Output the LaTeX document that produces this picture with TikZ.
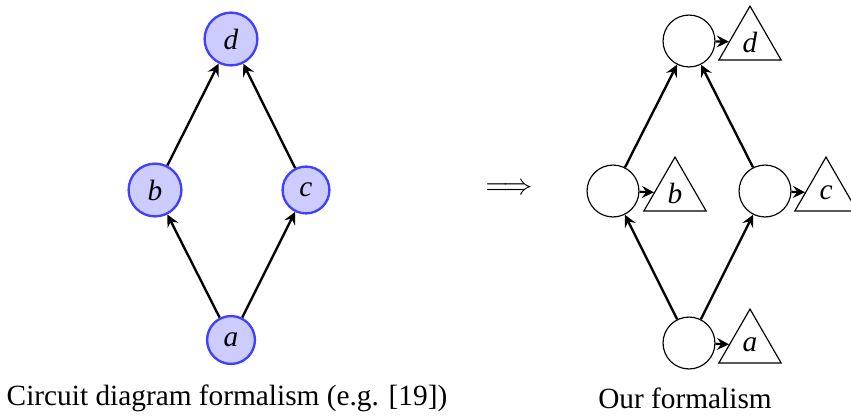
\documentclass[tikz,border=0pt]{standalone}
\usepackage{fontspec}
\setmainfont{Liberation Serif}
\usepackage{amsmath}
\usepackage{amssymb}
\usepackage{tikz}
\usetikzlibrary{shapes.geometric}

\begin{document}
\begin{tikzpicture}[x=0.341pt,y=-0.341pt,
    >=stealth,
    vert/.style={circle, draw=blue!75, fill=blue!20, thick},
    cell/.style={circle, draw, minimum size=17.7pt, inner sep=0pt},
    val/.style={regular polygon, regular polygon sides=3, draw, minimum size=24.5pt, inner sep=0.5pt}]
    \useasboundingbox (0,0) rectangle (851,418);
    % circuit diagram
    \node [vert] (ld) at (231,39) {\textit{d}};
    \node [vert] (lb) at (155,190) {\textit{b}};
    \node [vert] (lc) at (306,190) {\textit{c}};
    \node [vert] (la) at (231,340) {\textit{a}};
    \draw [->,thick] (la)--(lb);
    \draw [->,thick] (la)--(lc);
    \draw [->,thick] (lb)--(ld);
    \draw [->,thick] (lc)--(ld);
    \node (cap1) at (227,398) {Circuit diagram formalism (e.g. [19])};
    \node (imp) at (509,189) {$\Longrightarrow$};
    % our formalism
    \node [cell] (rd) at (689,41) {};
    \node [cell] (rb) at (613,191) {};
    \node [cell] (rc) at (765,191) {};
    \node [cell] (ra) at (689,343) {};
    \node [val] (td) at (750,42) {\textit{d}};
    \node [val] (tb) at (675,193) {\textit{b}};
    \node [val] (tc) at (826,193) {\textit{c}};
    \node [val] (ta) at (750,345) {\textit{a}};
    \draw [->,thick] (ra)--(rb);
    \draw [->,thick] (ra)--(rc);
    \draw [->,thick] (rb)--(rd);
    \draw [->,thick] (rc)--(rd);
    \draw [->,thick] (rd)--(td);
    \draw [->,thick] (rb)--(tb);
    \draw [->,thick] (rc)--(tc);
    \draw [->,thick] (ra)--(ta);
    \node (cap2) at (685,398) {Our formalism};
\end{tikzpicture}
\end{document}
